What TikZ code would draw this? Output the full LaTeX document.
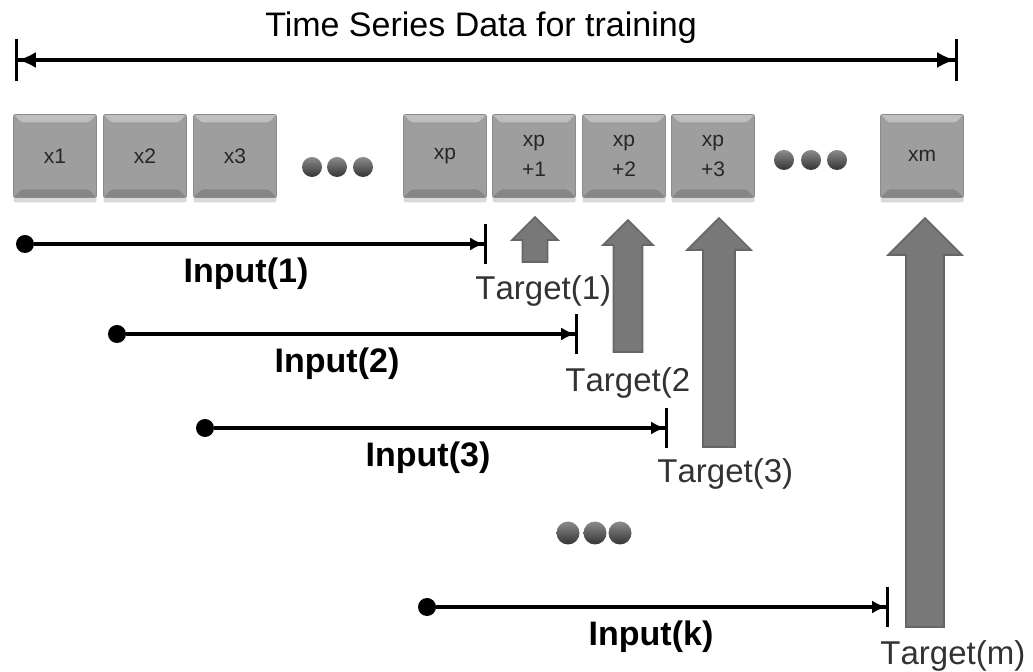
\documentclass[tikz,border=0pt]{standalone}
\usepackage{fontspec}
\setmainfont{Liberation Sans}
\newfontfamily\tgtfont[Kerning=Off]{Liberation Sans}
\usetikzlibrary{arrows.meta,shadows}

\definecolor{cellgray}{HTML}{9E9E9E}
\definecolor{arrgray}{HTML}{787878}

\tikzset{
  cell/.style={draw=black!45, line width=0.4pt, fill=cellgray, rounded corners=1pt,
    minimum width=41.5pt, minimum height=41.5pt, inner sep=0, align=center,
    font=\fontsize{10.5}{15}\selectfont, text=black!85,
    drop shadow={shadow xshift=0pt, shadow yshift=-2.5pt, opacity=.3},
    path picture={
      \fill[white,opacity=.35] (path picture bounding box.north west) -- (path picture bounding box.north east)
        -- ++(-4pt,-4pt) -- ([shift={(4pt,-4pt)}]path picture bounding box.north west) -- cycle;
      \fill[black,opacity=.15] (path picture bounding box.south west) -- (path picture bounding box.south east)
        -- ++(-4pt,4pt) -- ([shift={(4pt,4pt)}]path picture bounding box.south west) -- cycle;
    }},
  moredots/.style={circle, inner sep=0, minimum size=10pt, top color=black!45, bottom color=black!80},
  startdot/.style={circle, fill=black, inner sep=0, minimum size=9pt},
  inputline/.style={line width=1.6pt, -{Latex[length=7pt,width=6.5pt]Bar[width=20pt,line width=1.4pt]}},
  inlabel/.style={font=\bfseries\fontsize{17}{20}\selectfont, anchor=base},
  tgtlabel/.style={font=\tgtfont\fontsize{16.5}{20}\selectfont, text=black!80, anchor=base west, inner sep=0},
  tgtarrow/.style={fill=arrgray, draw=black!60, line width=0.8pt, line join=miter}
}

% block arrow pointing up: x, tip y, bottom y, half shaft, half head
\newcommand\tgtarr[5]{%
  \filldraw[tgtarrow] (#1-#4,#3) -- (#1-#4,#2+#5) -- (#1-#5,#2+#5) -- (#1,#2)
    -- (#1+#5,#2+#5) -- (#1+#4,#2+#5) -- (#1+#4,#3) -- cycle;}

\begin{document}
\begin{tikzpicture}[x=0.5pt,y=-0.5pt]
  \useasboundingbox (0,0) rectangle (1033,672);

  % whole series
  \coordinate (tsL) at (15,60);
  \coordinate (tsR) at (958,60);
  \draw[line width=1.6pt, {Bar[width=21pt,line width=1.4pt]Latex[length=9pt,width=8pt]}-{Latex[length=9pt,width=8pt]Bar[width=21pt,line width=1.4pt]}] (tsL) -- (tsR);
  \node[font=\fontsize{17}{20}\selectfont, anchor=base] (title) at (481,37) {Time Series Data for training};

  % cells
  \foreach \lbl/\x [count=\i] in {x1/55, x2/145, x3/235, xp/445, {xp\\+1}/534, {xp\\+2}/624, {xp\\+3}/713, xm/922}
    \node[cell] (c\i) at (\x,156) {\lbl};

  \foreach \x [count=\i] in {312,337,363} \node[moredots] (da\i) at (\x,167) {};
  \foreach \x [count=\i] in {784,811,837} \node[moredots] (db\i) at (\x,160) {};
  \foreach \x [count=\i] in {568,595,620} \node[moredots, minimum size=11.5pt] (dc\i) at (\x,533) {};

  % inputs
  \foreach \n/\xs/\xe/\y/\xl in {1/25/487/244/246, 2/117/578/334/337, 3/205/668/428/428, k/427/889/607/651} {
    \node[startdot] (in\n) at (\xs,\y) {};
    \coordinate (in\n-end) at (\xe,\y);
    \draw[inputline] (in\n) -- (in\n-end);
    \node[inlabel] (inl\n) at (\xl,\y+39) {Input(\n)};
  }

  % targets
  \node[tgtlabel] (t1) at (475,300) {Target(1)};
  \node[tgtlabel] (t2) at (565,392) {Target(2};
  \node[tgtlabel] (t3) at (657,483) {Target(3)};
  \node[tgtlabel] (tm) at (880,665) {Target(m)};
  \tgtarr{535}{217}{262}{12.5}{23}
  \tgtarr{628}{220}{352}{14.5}{25}
  \tgtarr{719}{218}{447}{16}{32}
  \tgtarr{925}{218}{627}{19}{37}
\end{tikzpicture}
\end{document}
